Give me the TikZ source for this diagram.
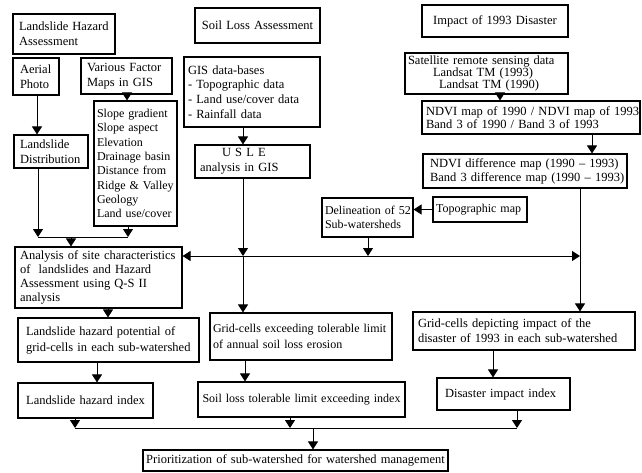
\documentclass[tikz,border=0pt]{standalone}
\usepackage{fontspec}
\setmainfont{Liberation Serif}
\usetikzlibrary{arrows.meta,calc}
\newcommand{\fsz}[2]{\fontsize{#1}{#2}\selectfont}
\newcommand{\flowbox}[8][]{%
  \pgfmathsetmacro\fbcx{(#3+#5)/2}%
  \pgfmathsetmacro\fbcy{(#4+#6)/2}%
  \pgfmathsetmacro\fbw{#5-#3}%
  \pgfmathsetmacro\fbh{#6-#4}%
  \pgfmathsetmacro\fbtw{#5-#3-2*#7}%
  \node[fbox,inner xsep=#7pt,text width=\fbtw pt,minimum width=\fbw pt,minimum height=\fbh pt,#1] (#2) at (\fbcx,\fbcy) {#8};}
\begin{document}
\begin{tikzpicture}[x=1pt,y=-1pt,
  fbox/.style={draw,line width=1.1pt,inner ysep=2pt,align=left,font=\fsz{12.5}{15}},
  arr/.style={line width=1pt,-{Triangle[width=10pt,length=8pt]}},
  arrboth/.style={line width=1pt,{Triangle[width=10pt,length=8pt]}-{Triangle[width=10pt,length=8pt]}},
  ln/.style={line width=1pt}]
\useasboundingbox (0,0) rectangle (642,472);
% ---- left column
\flowbox{lha}{13}{14}{115}{54}{6}{Landslide Hazard\\Assessment}
\flowbox{aerial}{13}{58}{59}{95}{7}{Aerial\\Photo}
\flowbox{various}{81}{58}{172}{94}{6}{Various Factor\\Maps in GIS}
\flowbox[font=\fsz{12}{14.3}]{factors}{94}{101}{177}{226}{3}{Slope gradient\\Slope aspect\\Elevation\\Drainage basin\\Distance from\\\mbox{Ridge \& Valley}\\Geology\\\mbox{Land use/cover}}
\flowbox{dist}{14}{135}{88}{168}{6}{Landslide\\Distribution}
\flowbox[font=\fsz{12.5}{14}]{analysis}{15}{247}{182}{308}{5}{\mbox{Analysis of site characteristics}\\of \ landslides and Hazard\\Assessment using Q-S II\\analysis}
\flowbox[font=\fsz{12.5}{16}]{potential}{18}{318}{199}{362}{8}{Landslide hazard potential of\\\mbox{grid-cells in each sub-watershed}}
\flowbox[align=center]{lhi}{18}{383}{153}{418}{5}{Landslide hazard index}
% ---- middle column
\flowbox[align=center]{soil}{195}{8}{320}{43}{5}{Soil Loss Assessment}
\flowbox[font=\fsz{12.5}{14.6}]{gis}{184}{57}{320}{127}{4}{GIS data-bases\\- Topographic data\\- Land use/cover data\\- Rainfall data}
\flowbox{usle}{195}{145}{310}{178}{5}{\hspace*{22pt}U S L E\\analysis in GIS}
\flowbox[font=\fsz{12}{14}]{delin}{322}{198}{413}{237}{3}{\mbox{Delineation of 52}\\Sub-watersheds}
\flowbox[font=\fsz{12}{14}]{topo}{433}{197}{527}{222}{3}{\mbox{Topographic map}}
\flowbox[font=\fsz{12}{16}]{gridex}{210}{313}{392}{360}{3}{\mbox{Grid-cells exceeding tolerable limit}\\of annual soil loss erosion}
\flowbox[font=\fsz{12}{14},align=center]{soilidx}{198}{382}{405}{417}{3}{\mbox{Soil loss tolerable limit exceeding index}}
% ---- right column
\flowbox[align=center]{impact}{422}{5}{568}{37}{5}{Impact of 1993 Disaster}
\flowbox[font=\fsz{12.5}{12}]{sat}{405}{53}{568}{94}{3}{Satellite remote sensing data\\\hspace*{25pt}Landsat TM (1993)\\\hspace*{31pt}Landsat TM (1990)}
\flowbox[font=\fsz{12.5}{12.5}]{ndvi}{422}{101}{640}{134}{4}{\mbox{NDVI map of 1990 / NDVI map of 1993}\\Band 3 of 1990 / Band 3 of 1993}
\flowbox[font=\fsz{12.5}{14}]{ndvidiff}{423}{154}{627}{188}{7}{\mbox{NDVI difference map (1990 -- 1993)}\\\mbox{Band 3 difference map (1990 -- 1993)}}
\flowbox[font=\fsz{12.5}{15}]{griddep}{413}{312}{635}{350}{5}{Grid-cells depicting impact of the\\\mbox{disaster of 1993 in each sub-watershed}}
\flowbox{dii}{437}{378}{570}{410}{8}{Disaster impact index}
% ---- bottom
\flowbox[align=center]{prior}{143}{450}{448}{471}{3}{\mbox{Prioritization of sub-watershed for watershed management}}
% ---- connectors, left
\coordinate (xa) at (37,0);
\draw[arr] (aerial.south -| xa) -- (dist.north -| xa);
\coordinate (xv) at (127,0);
\draw[arr] (various.south -| xv) -- (factors.north -| xv);
\coordinate (jL) at (38,237);
\coordinate (jR) at (128,237);
\coordinate (jM) at (71,237);
\draw[arr] (dist.south -| jL) -- (jL);
\draw[arr] (factors.south -| jR) -- (jR);
\draw[ln] (jL) -- (jR);
\draw[arr] (jM) -- (analysis.north -| jM);
% ---- connectors, middle
\coordinate (xu) at (243,0);
\draw[arr] (gis.south -| xu) -- (usle.north -| xu);
\coordinate (hU) at (243,256);
\coordinate (hD) at (368,256);
\coordinate (hR) at (580,256);
\draw[arr] (usle.south -| xu) -- (hU);
\draw[arr] (hU) -- (gridex.north -| xu);
\draw[arr] (delin.south -| hD) -- (hD);
\draw[arr] (topo.west) -- (delin.east |- topo.west);
\draw[arrboth] (analysis.east |- hR) -- (hR);
% ---- connectors, right
\coordinate (xs) at (500,0);
\draw[arr] (sat.south -| xs) -- (ndvi.north -| xs);
\coordinate (xn) at (592,0);
\draw[arr] (ndvi.south -| xn) -- (ndvidiff.north -| xn);
\draw[arr] (ndvidiff.south -| hR) -- (griddep.north -| hR);
% ---- connectors, lower
\coordinate (xp) at (108,0);
\draw[arr] (analysis.south -| xp) -- (potential.north -| xp);
\coordinate (xq) at (97,0);
\draw[arr] (potential.south -| xq) -- (lhi.north -| xq);
\coordinate (xg) at (245,0);
\draw[arr] (gridex.south -| xg) -- (soilidx.north -| xg);
\coordinate (xd) at (493,0);
\draw[arr] (griddep.south -| xd) -- (dii.north -| xd);
\coordinate (bL) at (75,428);
\coordinate (bS) at (290,428);
\coordinate (bD) at (517,428);
\coordinate (bM) at (313,428);
\draw[arr] (lhi.south -| bL) -- (bL);
\draw[arr] (soilidx.south -| bS) -- (bS);
\draw[arr] (dii.south -| bD) -- (bD);
\draw[ln] (bL) -- (bD);
\draw[arr] (bM) -- (prior.north -| bM);
\end{tikzpicture}
\end{document}
